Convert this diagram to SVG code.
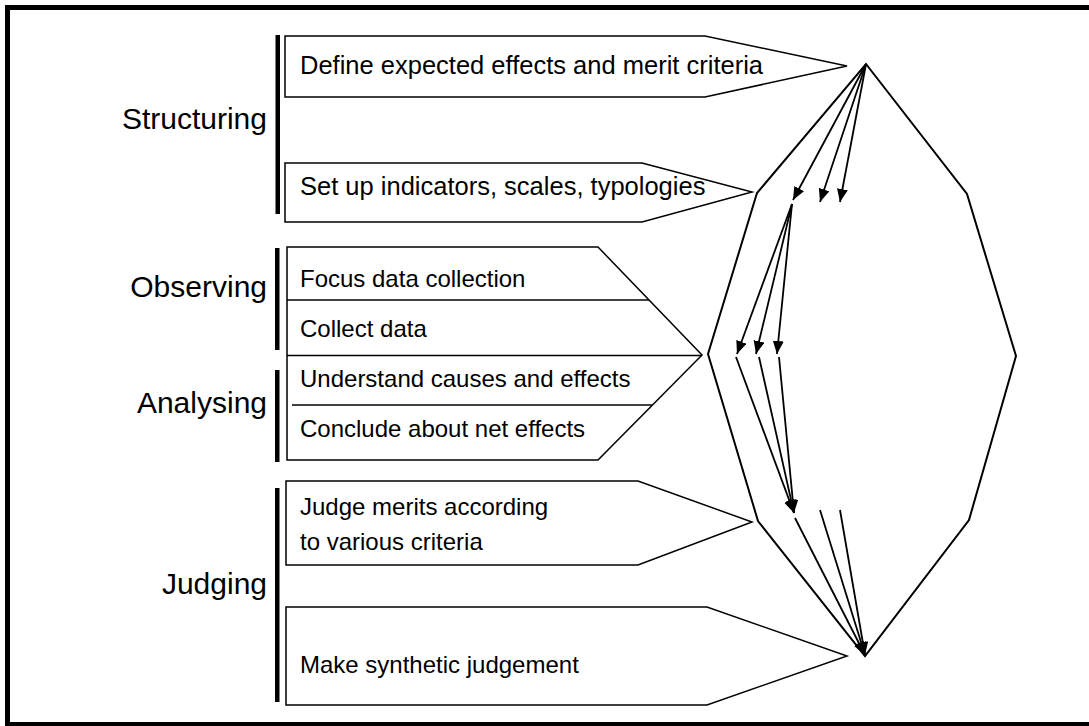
<svg xmlns="http://www.w3.org/2000/svg" width="1089" height="726" viewBox="0 0 1089 726">
  <style>
    .box { fill: #ffffff; stroke: #000; stroke-width: 1.5; }
    .sep { stroke: #000; stroke-width: 1.5; fill: none; }
    .bar { fill: #000; }
    .t { font-family: "Liberation Sans", Arial, sans-serif; font-size: 24px; fill: #000; }
    .t2 { font-family: "Liberation Sans", Arial, sans-serif; font-size: 25.5px; fill: #000; }
    .lab { font-family: "Liberation Sans", Arial, sans-serif; font-size: 30px; fill: #000; text-anchor: end; }
    .oct { fill: none; stroke: #000; stroke-width: 2; stroke-linejoin: miter; }
    .arr { stroke: #000; stroke-width: 1.8; fill: none; marker-end: url(#ah); }
  </style>
  <defs>
    <marker id="ah" markerUnits="userSpaceOnUse" markerWidth="14" markerHeight="12" refX="13" refY="5.5" orient="auto">
      <path d="M0,0 L13,5.5 L0,11 Z" fill="#000"/>
    </marker>
  </defs>
  <rect x="0" y="0" width="1089" height="726" fill="#ffffff"/>
  <rect x="7.5" y="7.5" width="1084" height="717" fill="none" stroke="#000" stroke-width="5"/>

  <g id="structuring">
    <rect class="bar" x="275.5" y="35" width="4.5" height="179"/>
    <text class="lab" x="267" y="129">Structuring</text>
  </g>
  <g id="observing">
    <rect class="bar" x="275" y="248" width="4.5" height="102"/>
    <text class="lab" x="267" y="297">Observing</text>
  </g>
  <g id="analysing">
    <rect class="bar" x="275" y="370" width="4.5" height="92"/>
    <text class="lab" x="267" y="413">Analysing</text>
  </g>
  <g id="judging">
    <rect class="bar" x="275" y="488" width="4.5" height="214"/>
    <text class="lab" x="267" y="594">Judging</text>
  </g>

  <g id="box-define">
    <path class="box" d="M285,36 H705 L847,66 L705,97 H285 Z"/>
    <text class="t2" x="300" y="74">Define expected effects and merit criteria</text>
  </g>
  <g id="box-setup">
    <path class="box" d="M285,163 H642 L752,192 L642,222 H285 Z"/>
    <text class="t2" x="300" y="195">Set up indicators, scales, typologies</text>
  </g>
  <g id="box-observe-analyse">
    <path class="box" d="M287,247 H598 L702,355 L598,460 H287 Z"/>
    <line class="sep" x1="287" y1="300" x2="649" y2="300"/>
    <line class="sep" x1="287" y1="355.5" x2="702" y2="355.5"/>
    <line class="sep" x1="292" y1="405" x2="652" y2="405"/>
    <text class="t" x="300" y="287">Focus data collection</text>
    <text class="t" x="300" y="337">Collect data</text>
    <text class="t" x="300" y="387">Understand causes and effects</text>
    <text class="t" x="300" y="437">Conclude about net effects</text>
  </g>
  <g id="box-judge">
    <path class="box" d="M286,481 H638 L752,522 L638,565 H286 Z"/>
    <text class="t" x="300" y="515">Judge merits according</text>
    <text class="t" x="300" y="550">to various criteria</text>
  </g>
  <g id="box-synthesis">
    <path class="box" d="M286,607 H707 L847,656 L707,705 H286 Z"/>
    <text class="t" x="300" y="673">Make synthetic judgement</text>
  </g>

  <g id="cycle">
    <polygon class="oct" points="866,64 967,194 1016,356 969,520 865,656 758,521 708,354 757,193"/>
  </g>

  <g id="connectors">
    <line class="arr" x1="866" y1="64" x2="793" y2="200"/>
    <line class="arr" x1="866" y1="64" x2="820" y2="202"/>
    <line class="arr" x1="866" y1="64" x2="840" y2="202"/>
    <line class="arr" x1="792" y1="204" x2="737" y2="354"/>
    <line class="arr" x1="792" y1="204" x2="756" y2="354"/>
    <line class="arr" x1="792" y1="204" x2="777" y2="354"/>
    <line class="arr" x1="736" y1="357" x2="794" y2="513"/>
    <line class="arr" x1="759" y1="357" x2="794" y2="513"/>
    <line class="arr" x1="779" y1="357" x2="794" y2="513"/>
    <line class="arr" x1="795" y1="518" x2="865" y2="655"/>
    <line class="arr" x1="820" y1="510" x2="865" y2="655"/>
    <line class="arr" x1="840" y1="510" x2="865" y2="655"/>
  </g>
</svg>
